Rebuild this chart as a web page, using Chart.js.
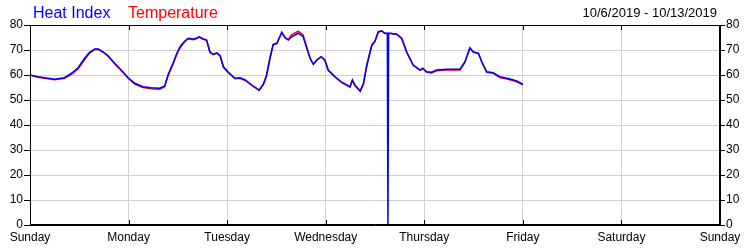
<!DOCTYPE html>
<html>
<head>
<meta charset="utf-8">
<script src="https://cdn.jsdelivr.net/npm/chart.js@4"></script>
<style>
  body { margin: 0; background: #fff; }
</style>
</head>
<body>
<canvas id="myChart" width="750" height="250"></canvas>
<script>
const ctx = document.getElementById('myChart');

// hours since Sunday 00:00
const hours = [0, 1.9, 4.4, 6.0, 8.4, 10.1, 11.7, 13.3, 14.5, 15.8, 16.6, 17.8, 19.0, 20.6, 22.2, 23.9,
  25.5, 27.5, 29.5, 31.6, 32.8, 33.6, 34.8, 35.9, 36.7, 37.7, 38.5, 39.7, 40.5, 41.2, 42.2, 43.0,
  43.8, 44.6, 45.5, 46.3, 47.1, 48.3, 49.9, 51.1, 52.4, 54.0, 55.8, 56.8, 57.6, 58.4, 59.2, 60.1,
  61.3, 62.1, 62.9, 63.7, 65.3, 66.5, 67.4, 68.2, 69.0, 69.8, 70.9, 71.8, 72.6, 74.3, 75.9, 77.9,
  78.5, 79.1, 80.4, 81.2, 82.0, 83.2, 84.0, 84.8, 85.6, 86.4, 87.0, 87.15, 87.3, 87.7, 89.3, 90.5,
  91.7, 93.3, 95.0, 95.6, 96.6, 97.8, 99.0, 101.5, 104.7, 105.9, 107.1, 107.9, 109.2, 110.0, 111.2,
  112.8, 114.4, 116.9, 118.5, 120.0];

const heatIndex = [60.0, 59.3, 58.7, 58.3, 58.9, 60.7, 62.9, 66.7, 69.1, 70.4, 70.4, 69.3, 67.7, 64.7, 62.0, 58.9,
  56.7, 55.3, 54.9, 54.7, 55.6, 60.0, 64.7, 69.3, 71.7, 73.6, 74.7, 74.4, 74.7, 75.3, 74.4, 74.0,
  69.3, 68.3, 68.9, 67.7, 63.3, 61.1, 58.7, 58.9, 58.0, 56.0, 54.0, 56.3, 60.0, 66.7, 72.3, 72.7,
  77.1, 74.9, 74.0, 75.3, 76.7, 75.3, 70.7, 66.7, 64.3, 66.0, 67.3, 66.0, 62.0, 59.3, 57.1, 55.3,
  58.0, 56.0, 53.6, 56.7, 64.0, 72.0, 73.6, 77.3, 77.6, 76.7, 76.7, 0, 76.7, 76.7, 76.3, 74.7,
  69.3, 64.0, 62.0, 62.7, 61.3, 61.1, 62.0, 62.3, 62.3, 65.3, 70.9, 69.3, 68.7, 65.3, 61.3,
  60.9, 59.3, 58.4, 57.6, 56.3];

const temperature = [60.0, 59.1, 58.5, 58.1, 58.7, 60.2, 62.4, 66.2, 68.7, 70.2, 70.3, 69.1, 67.5, 64.5, 61.8, 58.7,
  56.4, 55.0, 54.5, 54.3, 55.3, 59.6, 64.2, 68.8, 71.3, 73.3, 74.5, 74.1, 74.5, 75.2, 74.3, 73.9,
  69.1, 68.1, 68.7, 67.5, 63.1, 60.9, 58.5, 58.7, 57.8, 55.8, 53.8, 56.0, 59.6, 66.2, 72.0, 72.5,
  77.0, 74.9, 74.2, 76.1, 77.5, 76.0, 71.1, 66.6, 64.2, 65.9, 67.2, 65.9, 61.9, 59.1, 56.9, 55.1,
  57.8, 55.8, 53.4, 56.4, 63.6, 71.6, 73.4, 77.1, 77.7, 76.6, 76.6, 76.6, 76.6, 76.6, 76.2, 74.5,
  69.1, 63.8, 61.9, 62.5, 61.1, 60.8, 61.7, 62.0, 62.0, 65.0, 70.7, 69.2, 68.5, 65.1, 61.1,
  60.7, 59.0, 58.1, 57.3, 56.1];

const dayLabels = ['Sunday', 'Monday', 'Tuesday', 'Wednesday', 'Thursday', 'Friday', 'Saturday', 'Sunday'];
const dateRange = '10/6/2019 - 10/13/2019';

const font = '"Liberation Sans", Arial, sans-serif';
const gridGray = '#d0d0d0';

const framePlugin = {
  id: 'frame',
  afterDraw(chart) {
    const c = chart.ctx;
    const a = chart.chartArea;
    const xs = chart.scales.x;
    c.save();
    c.strokeStyle = '#000';
    c.lineWidth = 1;
    c.strokeRect(a.left + 0.5, a.top + 0.5, a.right - a.left - 1, a.bottom - a.top - 1);
    c.beginPath();
    xs.ticks.forEach(t => {
      const px = Math.round(xs.getPixelForValue(t.value)) + 0.5;
      c.moveTo(px, a.top);
      c.lineTo(px, a.top + 5);
      c.moveTo(px, a.bottom);
      c.lineTo(px, a.bottom - 5);
    });
    c.stroke();

    c.textBaseline = 'alphabetic';
    c.font = '16px ' + font;
    c.textAlign = 'left';
    c.fillStyle = '#0000ff';
    c.fillText('Heat Index', 33, 18);
    c.fillStyle = '#ff0000';
    c.fillText('Temperature', 128, 18);
    c.font = '13px ' + font;
    c.fillStyle = '#000';
    c.textAlign = 'right';
    c.fillText(dateRange, 717, 17);
    c.restore();
  }
};

new Chart(ctx, {
  type: 'line',
  data: {
    labels: hours,
    datasets: [{
      label: 'Heat Index',
      data: hours.map((h, i) => ({ x: h, y: heatIndex[i] })),
      borderColor: '#0000ff',
      borderWidth: 1.5,
      pointRadius: 0,
      tension: 0
    }, {
      label: 'Temperature',
      data: hours.map((h, i) => ({ x: h, y: temperature[i] })),
      borderColor: '#ff0000',
      borderWidth: 1.5,
      pointRadius: 0,
      tension: 0
    }]
  },
  plugins: [framePlugin],
  options: {
    responsive: false,
    animation: false,
    devicePixelRatio: 1,
    layout: { padding: { top: 25, left: 0, right: 0, bottom: 0 } },
    plugins: { legend: { display: false }, tooltip: { enabled: false } },
    scales: {
      x: {
        type: 'linear',
        min: 0,
        max: 168,
        afterFit: s => { s.height = 25; },
        ticks: {
          stepSize: 24,
          autoSkip: false,
          maxRotation: 0,
          padding: 5,
          color: '#000',
          font: { family: font, size: 12 },
          callback: v => dayLabels[v / 24]
        },
        grid: { color: gridGray, drawTicks: false },
        border: { color: '#000' }
      },
      y: {
        position: 'left',
        min: 0,
        max: 80,
        afterFit: s => { s.width = 30; },
        ticks: { stepSize: 10, padding: 1, color: '#000', font: { family: font, size: 12 } },
        grid: { color: gridGray, tickColor: '#000', tickLength: 6 },
        border: { color: '#000' }
      },
      y2: {
        position: 'right',
        min: 0,
        max: 80,
        afterFit: s => { s.width = 30; },
        ticks: { stepSize: 10, padding: 1, color: '#000', font: { family: font, size: 12 } },
        grid: { drawOnChartArea: false, tickColor: '#000', tickLength: 5 },
        border: { color: '#000' }
      }
    }
  }
});
</script>
</body>
</html>
